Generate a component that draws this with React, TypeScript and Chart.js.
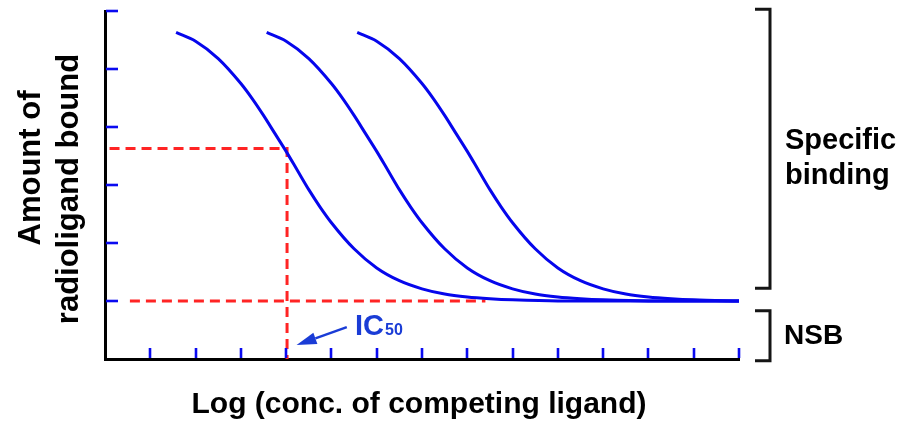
import React, { useEffect, useRef } from 'react';
import { Chart, registerables } from 'chart.js';

Chart.register(...registerables);

// ---- Data ----
const curve1X = [1.57, 2, 2.5, 3, 3.25, 3.5, 3.75, 4, 4.25, 4.5, 4.75, 5, 5.5, 6, 6.5, 7, 7.5, 8, 8.5, 9, 10, 11, 12, 13, 14];
const curve1Y = [5.63, 5.48, 5.18, 4.75, 4.49, 4.2, 3.89, 3.58, 3.25, 2.92, 2.62, 2.35, 1.9, 1.57, 1.35, 1.21, 1.12, 1.07, 1.04, 1.02, 1.0, 1.0, 1.0, 1.0, 1.0];

const curve2X = [3.57, 4, 4.5, 5, 5.25, 5.5, 5.75, 6, 6.25, 6.5, 6.75, 7, 7.5, 8, 8.5, 9, 9.5, 10, 10.5, 11, 12, 13, 14];
const curve2Y = [5.63, 5.48, 5.18, 4.75, 4.49, 4.2, 3.89, 3.58, 3.25, 2.92, 2.62, 2.35, 1.9, 1.57, 1.35, 1.21, 1.12, 1.07, 1.04, 1.02, 1.0, 1.0, 1.0];

const curve3X = [5.57, 6, 6.5, 7, 7.25, 7.5, 7.75, 8, 8.25, 8.5, 8.75, 9, 9.5, 10, 10.5, 11, 11.5, 12, 12.5, 13, 14];
const curve3Y = [5.63, 5.48, 5.18, 4.75, 4.49, 4.2, 3.89, 3.58, 3.25, 2.92, 2.62, 2.35, 1.9, 1.57, 1.35, 1.21, 1.12, 1.07, 1.04, 1.02, 1.0];

// IC50 guide (dashed red): horizontal at half-maximal binding, then down to the axis
const icGuideX = [0.1, 4.02, 4.02];
const icGuideY = [3.63, 3.63, 0];

// NSB level guide (dashed red)
const nsbGuideX = [0.55, 8.4];
const nsbGuideY = [1, 1];

// Axis ranges
const X_MIN = 0;
const X_MAX = 14;
const Y_MIN = 0;
const Y_MAX = 6;

// Bracket ranges (y values)
const specificBracket = [6.03, 1.22];
const nsbBracket = [0.83, -0.03];

// IC50 annotation (data coordinates)
const arrowFrom = { x: 5.34, y: 0.55 };
const arrowTo = { x: 4.23, y: 0.24 };
const icLabelPos = { x: 5.52, y: 0.41 };

// Texts
const X_TITLE = 'Log (conc. of competing ligand)';
const Y_TITLE = ['Amount of', 'radioligand bound'];
const SPECIFIC_LABEL = ['Specific', 'binding'];
const NSB_LABEL = 'NSB';
const IC_MAIN = 'IC';
const IC_SUB = '50';

// Styles
const FONT = '"Liberation Sans", Arial, Helvetica, sans-serif';
const CURVE_BLUE = '#0606ec';
const TICK_BLUE = '#0a0af0';
const LABEL_BLUE = '#1a3cd6';
const GUIDE_RED = '#ff2424';

const W = 915;
const H = 421;

function pts(xs: number[], ys: number[]) {
  return xs.map((x, i) => ({ x, y: ys[i] }));
}

const overlayPlugin = {
  id: 'overlay',
  afterDatasetsDraw(chart: any) {
    const { ctx, chartArea: a, scales } = chart;
    const xs = scales.x;
    const ys = scales.y;
    ctx.save();

    // Inward blue ticks
    ctx.strokeStyle = TICK_BLUE;
    ctx.lineWidth = 2.6;
    ctx.lineCap = 'butt';
    for (const t of xs.ticks) {
      if (t.value <= X_MIN) continue;
      const px = Math.round(xs.getPixelForValue(t.value));
      ctx.beginPath();
      ctx.moveTo(px, a.bottom - 1);
      ctx.lineTo(px, a.bottom - 11);
      ctx.stroke();
    }
    for (const t of ys.ticks) {
      if (t.value <= Y_MIN) continue;
      const py = Math.round(ys.getPixelForValue(t.value));
      ctx.beginPath();
      ctx.moveTo(a.left + 1, py);
      ctx.lineTo(a.left + 13, py);
      ctx.stroke();
    }

    // IC50 arrow
    const fx = xs.getPixelForValue(arrowFrom.x);
    const fy = ys.getPixelForValue(arrowFrom.y);
    const tx = xs.getPixelForValue(arrowTo.x);
    const ty = ys.getPixelForValue(arrowTo.y);
    const ang = Math.atan2(ty - fy, tx - fx);
    const headLen = 20;
    const headHalf = 6;
    const bx = tx - headLen * Math.cos(ang);
    const by = ty - headLen * Math.sin(ang);
    ctx.strokeStyle = LABEL_BLUE;
    ctx.fillStyle = LABEL_BLUE;
    ctx.lineWidth = 2.5;
    ctx.beginPath();
    ctx.moveTo(fx, fy);
    ctx.lineTo(bx, by);
    ctx.stroke();
    ctx.beginPath();
    ctx.moveTo(tx, ty);
    ctx.lineTo(bx + headHalf * Math.sin(ang), by - headHalf * Math.cos(ang));
    ctx.lineTo(bx - headHalf * Math.sin(ang), by + headHalf * Math.cos(ang));
    ctx.closePath();
    ctx.fill();

    // IC50 label
    const lx = xs.getPixelForValue(icLabelPos.x);
    const ly = ys.getPixelForValue(icLabelPos.y);
    ctx.textAlign = 'left';
    ctx.textBaseline = 'alphabetic';
    ctx.font = `bold 29px ${FONT}`;
    ctx.fillText(IC_MAIN, lx, ly);
    const icW = ctx.measureText(IC_MAIN).width;
    ctx.font = `bold 16px ${FONT}`;
    ctx.fillText(IC_SUB, lx + icW + 1, ly);

    // Brackets on the right
    const bracketX = a.right + 31;
    const serif = 15;
    ctx.strokeStyle = '#151515';
    ctx.lineWidth = 3;
    ctx.lineJoin = 'miter';
    const drawBracket = (v0: number, v1: number) => {
      const y0 = ys.getPixelForValue(v0);
      const y1 = ys.getPixelForValue(v1);
      ctx.beginPath();
      ctx.moveTo(bracketX - serif, y0);
      ctx.lineTo(bracketX, y0);
      ctx.lineTo(bracketX, y1);
      ctx.lineTo(bracketX - serif, y1);
      ctx.stroke();
    };
    drawBracket(specificBracket[0], specificBracket[1]);
    drawBracket(nsbBracket[0], nsbBracket[1]);

    // Right labels
    ctx.fillStyle = '#000';
    ctx.font = `bold 29px ${FONT}`;
    ctx.textAlign = 'left';
    ctx.fillText(SPECIFIC_LABEL[0], a.right + 46, 149);
    ctx.fillText(SPECIFIC_LABEL[1], a.right + 46, 184);
    ctx.font = `bold 28px ${FONT}`;
    ctx.fillText(NSB_LABEL, a.right + 45, 344);

    // X title
    ctx.font = `bold 30px ${FONT}`;
    ctx.textAlign = 'center';
    ctx.fillText(X_TITLE, 419, 413);

    // Y title (rotated)
    ctx.font = `bold 31px ${FONT}`;
    const yTitleBase = [40, 78];
    const yTitleCenter = [168, 189];
    Y_TITLE.forEach((line, i) => {
      ctx.save();
      ctx.translate(yTitleBase[i], yTitleCenter[i]);
      ctx.rotate(-Math.PI / 2);
      ctx.textAlign = 'center';
      ctx.fillText(line, 0, 0);
      ctx.restore();
    });

    ctx.restore();
  },
};

export default function App() {
  const canvasRef = useRef<HTMLCanvasElement | null>(null);

  useEffect(() => {
    const canvas = canvasRef.current;
    if (!canvas) return;
    const curveStyle = {
      borderColor: CURVE_BLUE,
      borderWidth: 3,
      pointRadius: 0,
      fill: false,
      cubicInterpolationMode: 'monotone' as const,
    };
    const guideStyle = {
      borderColor: GUIDE_RED,
      borderWidth: 3,
      borderDash: [10, 6],
      pointRadius: 0,
      fill: false,
      tension: 0,
    };
    const chart = new Chart(canvas, {
      type: 'line',
      data: {
        datasets: [
          { label: 'Curve 1', data: pts(curve1X, curve1Y), ...curveStyle },
          { label: 'Curve 2', data: pts(curve2X, curve2Y), ...curveStyle },
          { label: 'Curve 3', data: pts(curve3X, curve3Y), ...curveStyle },
          { label: 'IC50 guide', data: pts(icGuideX, icGuideY), ...guideStyle },
          { label: 'NSB guide', data: pts(nsbGuideX, nsbGuideY), ...guideStyle },
        ],
      },
      options: {
        responsive: false,
        animation: false,
        devicePixelRatio: 1,
        layout: {
          autoPadding: false,
          padding: { left: 105, top: 11, right: W - 739, bottom: H - 359 },
        },
        plugins: {
          legend: { display: false },
          tooltip: { enabled: false },
        },
        scales: {
          x: {
            type: 'linear',
            min: X_MIN,
            max: X_MAX,
            ticks: { display: false, stepSize: 1 },
            grid: { display: false, drawTicks: false, tickLength: 0 },
            border: { display: true, color: '#000', width: 3 },
          },
          y: {
            type: 'linear',
            min: Y_MIN,
            max: Y_MAX,
            ticks: { display: false, stepSize: 1 },
            grid: { display: false, drawTicks: false, tickLength: 0 },
            border: { display: true, color: '#000', width: 3 },
          },
        },
      },
      plugins: [overlayPlugin],
    });
    return () => chart.destroy();
  }, []);

  return (
    <div style={{ position: 'absolute', left: 0, top: 0, width: W, height: H, background: '#fff' }}>
      <canvas ref={canvasRef} width={W} height={H} style={{ display: 'block' }} />
    </div>
  );
}
